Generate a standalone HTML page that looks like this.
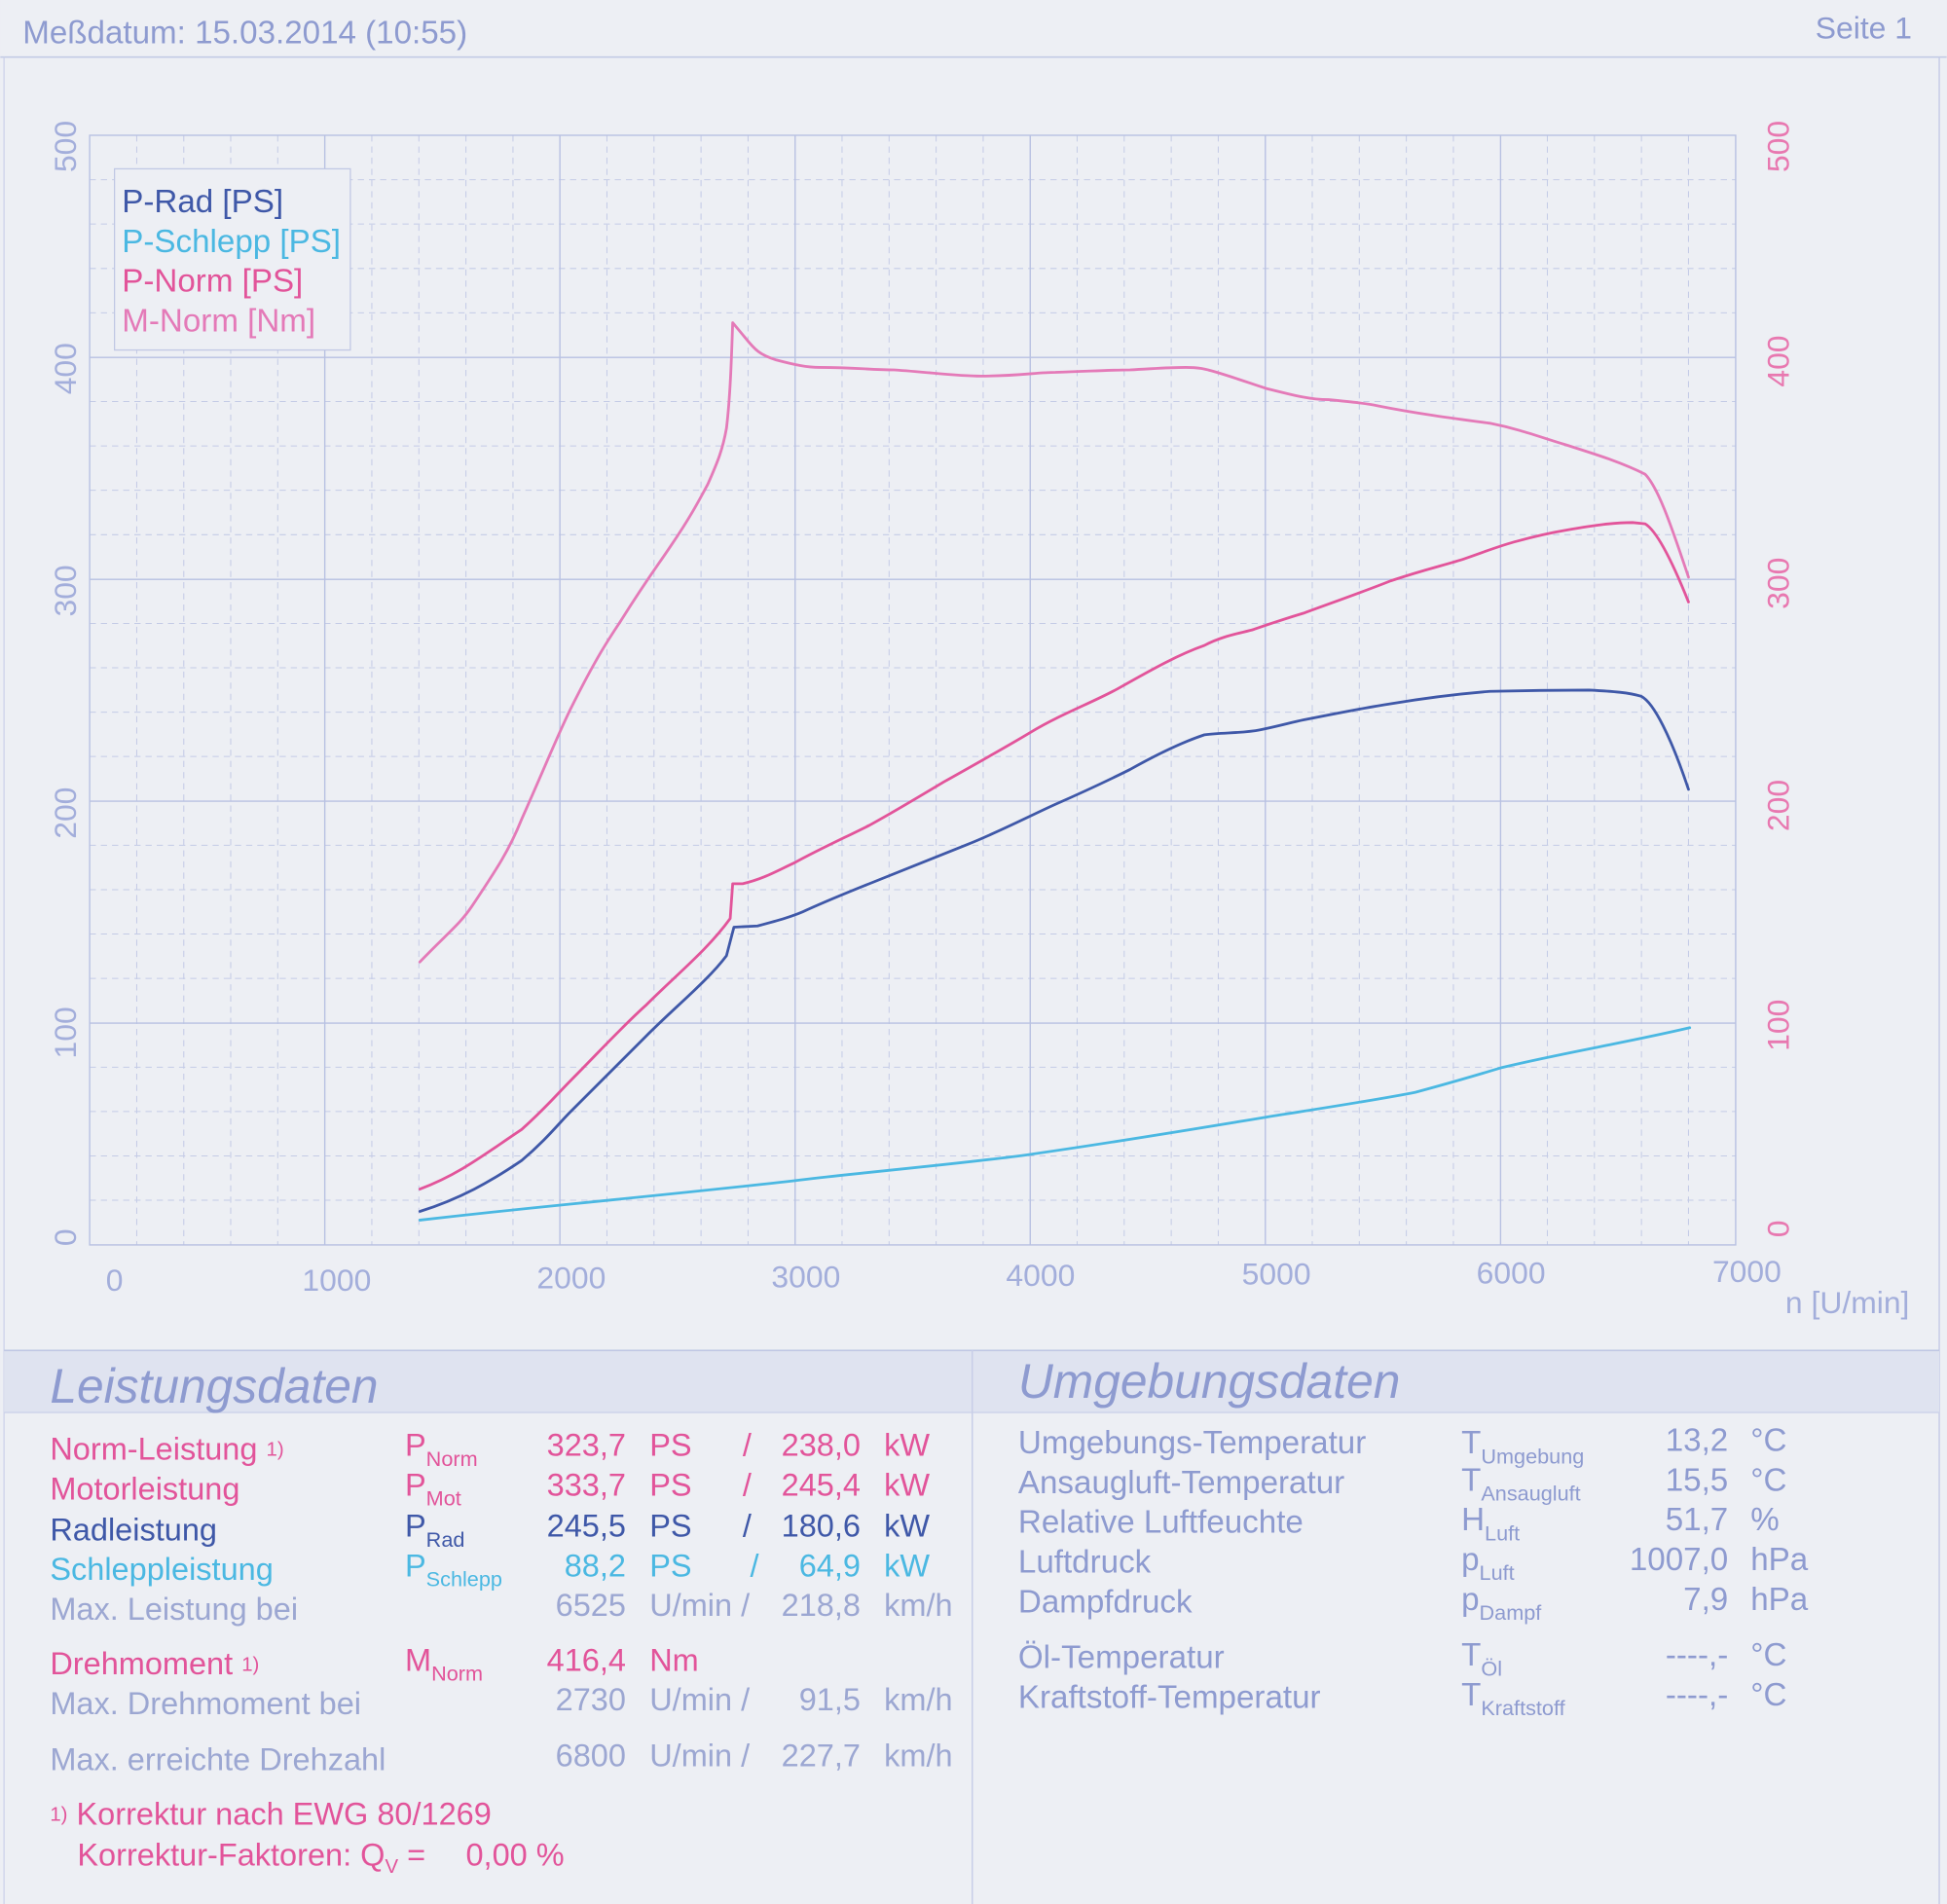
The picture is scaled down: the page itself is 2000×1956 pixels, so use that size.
<!DOCTYPE html>
<html><head><meta charset="utf-8"><style>
html,body{margin:0;padding:0;background:#eceef3;}
svg{display:block;}
text{font-family:"Liberation Sans",Arial,sans-serif;}
</style></head><body>
<svg width="2000" height="1956" viewBox="0 0 1568 1534" xmlns="http://www.w3.org/2000/svg">
<rect x="0" y="0" width="1568" height="1534" fill="#edeff4"/>
<text x="18" y="35" font-size="26" fill="#8e9bd0">Meßdatum: 15.03.2014 (10:55)</text>
<text x="1540" y="31" font-size="25" fill="#8e9bd0" text-anchor="end">Seite 1</text>
<line x1="0" y1="46" x2="1568" y2="46" stroke="#c0c8e4" stroke-width="1.2"/>
<line x1="1562" y1="46" x2="1562" y2="1534" stroke="#c8cee8" stroke-width="1.2"/>
<line x1="3" y1="46" x2="3" y2="1534" stroke="#cdd2ea" stroke-width="1"/>

<!-- grid -->
<g stroke="#c4cbe6" stroke-width="0.8" stroke-dasharray="5,4" fill="none">
<path d="M72,144.8H1398M72,180.5H1398M72,216.3H1398M72,252H1398
M72,323.5H1398M72,359.3H1398M72,395H1398M72,430.8H1398
M72,502.3H1398M72,538H1398M72,573.8H1398M72,609.5H1398
M72,681H1398M72,716.8H1398M72,752.5H1398M72,788.3H1398
M72,859.8H1398M72,895.5H1398M72,931.3H1398M72,967H1398"/>
<path d="M109.9,109V1003M147.8,109V1003M185.6,109V1003M223.5,109V1003
M299.3,109V1003M337.2,109V1003M375.1,109V1003M413,109V1003
M488.7,109V1003M526.6,109V1003M564.5,109V1003M602.4,109V1003
M678.1,109V1003M716,109V1003M753.9,109V1003M791.8,109V1003
M867.5,109V1003M905.4,109V1003M943.3,109V1003M981.2,109V1003
M1056.9,109V1003M1094.8,109V1003M1132.7,109V1003M1170.6,109V1003
M1246.3,109V1003M1284.2,109V1003M1322.1,109V1003M1360,109V1003"/>
</g>
<g stroke="#b8c1e2" stroke-width="1.1" fill="none">
<rect x="72" y="109" width="1326" height="894"/>
<path d="M72,288H1398M72,466.8H1398M72,645.5H1398M72,824.3H1398"/>
<path d="M261.4,109V1003M450.8,109V1003M640.3,109V1003M829.7,109V1003M1019.1,109V1003M1208.6,109V1003"/>
</g>

<!-- left labels -->
<g font-size="25" fill="#a3aedb" text-anchor="middle">
<text transform="translate(61,118) rotate(-90)">500</text>
<text transform="translate(61,297) rotate(-90)">400</text>
<text transform="translate(61,476) rotate(-90)">300</text>
<text transform="translate(61,655) rotate(-90)">200</text>
<text transform="translate(61,832) rotate(-90)">100</text>
<text transform="translate(61,997) rotate(-90)">0</text>
</g>
<g font-size="25" fill="#e878b0" text-anchor="middle">
<text transform="translate(1441,118) rotate(-90)">500</text>
<text transform="translate(1441,291) rotate(-90)">400</text>
<text transform="translate(1441,470) rotate(-90)">300</text>
<text transform="translate(1441,649) rotate(-90)">200</text>
<text transform="translate(1441,826) rotate(-90)">100</text>
<text transform="translate(1441,990) rotate(-90)">0</text>
</g>
<g font-size="25" fill="#a3aedb" text-anchor="middle">
<text x="92" y="1040">0</text><text x="271" y="1040">1000</text><text x="460" y="1038">2000</text>
<text x="649" y="1037">3000</text><text x="838" y="1036">4000</text><text x="1028" y="1035">5000</text>
<text x="1217" y="1034">6000</text><text x="1407" y="1033">7000</text>
<text x="1488" y="1058">n [U/min]</text>
</g>

<!-- legend -->
<rect x="92" y="136" width="190" height="146" fill="#edeff4" stroke="#c0c8e4" stroke-width="1"/>
<g font-size="26">
<text x="98" y="171" fill="#3f58a8">P-Rad [PS]</text>
<text x="98" y="203" fill="#4bb8e2">P-Schlepp [PS]</text>
<text x="98" y="235" fill="#e2549a">P-Norm [PS]</text>
<text x="98" y="267" fill="#e47ab8">M-Norm [Nm]</text>
</g>

<!-- curves -->
<g fill="none" stroke-width="2.2" stroke-linejoin="round" stroke-linecap="round">
<path stroke="#e47ab8" d="M338,775 C360,752 370,745 380,730 C400,700 410,685 420,660 C440,615 450,590 460,570 C480,530 490,515 500,500 C520,468 530,455 540,440 C555,418 562,405 570,390 C578,372 582,362 585,345 C588,320 589,290 590,260 L600,272 C608,282 612,286 625,290 C640,294 650,296 660,296 C690,296 700,298 720,298 C750,300 770,303 790,303 C820,303 835,300 850,300 C880,299 895,298 910,298 C930,297 940,296 955,296 C965,296 970,297 980,300 C1000,306 1010,310 1020,313 C1040,318 1055,322 1070,322 C1090,324 1100,325 1110,327 C1140,333 1170,337 1200,341 C1225,346 1240,352 1260,358 C1285,366 1305,372 1325,382 C1335,392 1345,420 1360,465"/>
<path stroke="#e2549a" d="M338,958 C370,946 390,930 420,910 C440,892 450,880 460,870 C480,850 500,828 520,810 C545,785 570,765 588,740 L590,712 L598,712 C615,708 625,702 640,695 C660,684 680,675 700,665 C720,654 740,642 760,630 C785,616 810,602 830,590 C855,575 880,566 900,555 C930,538 950,527 970,520 C985,512 1000,510 1010,507 C1030,500 1040,497 1050,494 C1080,483 1100,476 1120,468 C1150,458 1165,455 1180,450 C1200,443 1210,439 1222,436 C1240,431 1250,429 1262,427 C1285,423 1300,421 1315,421 L1325,422 C1335,428 1348,455 1360,485"/>
<path stroke="#3f58a8" d="M338,976 C370,966 395,952 420,935 C440,918 450,905 460,895 C480,875 500,855 520,835 C545,810 570,790 585,770 L591,747 L610,746 C625,742 640,738 650,733 C670,724 685,718 700,712 C730,700 755,690 780,680 C805,670 830,657 850,648 C875,637 890,630 910,620 C935,606 955,597 970,592 C985,590 1000,591 1015,588 C1030,585 1040,582 1050,580 C1080,574 1100,570 1120,567 C1150,562 1175,559 1200,557 C1240,556 1260,556 1280,556 C1300,557 1312,558 1322,561 C1332,566 1346,594 1360,636"/>
<path stroke="#4bb8e2" d="M338,983 C400,976 430,973 460,970 C540,962 600,956 650,950 C720,942 780,937 830,930 C900,920 960,910 1020,900 C1070,892 1110,886 1140,880 C1170,872 1190,866 1210,860 C1260,848 1310,840 1361,828"/>
</g>

<!-- bottom section -->
<rect x="3" y="1088" width="1559" height="50" fill="#dfe3f0"/>
<line x1="3" y1="1088" x2="1562" y2="1088" stroke="#c0c8e4" stroke-width="1.2"/>
<line x1="3" y1="1138" x2="1562" y2="1138" stroke="#ccd2ea" stroke-width="1"/>
<line x1="783" y1="1088" x2="783" y2="1534" stroke="#c8cee8" stroke-width="1.2"/>
<text x="40" y="1130" font-size="39" font-style="italic" fill="#8e9bd0">Leistungsdaten</text>
<text x="820" y="1126" font-size="39" font-style="italic" fill="#8e9bd0">Umgebungsdaten</text>

<g font-size="25.5">
<g fill="#e2549a">
<text x="40" y="1176">Norm-Leistung <tspan font-size="16" dy="-3">1)</tspan></text>
<text x="326" y="1173">P<tspan font-size="17" dy="8">Norm</tspan></text>
<text x="504" y="1173" text-anchor="end">323,7</text><text x="523" y="1173">PS</text><text x="598" y="1173">/</text>
<text x="693" y="1173" text-anchor="end">238,0</text><text x="712" y="1173">kW</text>
<text x="40" y="1208">Motorleistung</text>
<text x="326" y="1205">P<tspan font-size="17" dy="8">Mot</tspan></text>
<text x="504" y="1205" text-anchor="end">333,7</text><text x="523" y="1205">PS</text><text x="598" y="1205">/</text>
<text x="693" y="1205" text-anchor="end">245,4</text><text x="712" y="1205">kW</text>
</g>
<g fill="#3f58a8">
<text x="40" y="1241">Radleistung</text>
<text x="326" y="1238">P<tspan font-size="17" dy="8">Rad</tspan></text>
<text x="504" y="1238" text-anchor="end">245,5</text><text x="523" y="1238">PS</text><text x="598" y="1238">/</text>
<text x="693" y="1238" text-anchor="end">180,6</text><text x="712" y="1238">kW</text>
</g>
<g fill="#4bb8e2">
<text x="40" y="1273">Schleppleistung</text>
<text x="326" y="1270">P<tspan font-size="17" dy="8">Schlepp</tspan></text>
<text x="504" y="1270" text-anchor="end">88,2</text><text x="523" y="1270">PS</text><text x="604" y="1270">/</text>
<text x="693" y="1270" text-anchor="end">64,9</text><text x="712" y="1270">kW</text>
</g>
<g fill="#9ca7d2">
<text x="40" y="1305">Max. Leistung bei</text>
<text x="504" y="1302" text-anchor="end">6525</text><text x="523" y="1302">U/min /</text>
<text x="693" y="1302" text-anchor="end">218,8</text><text x="712" y="1302">km/h</text>
</g>
<g fill="#e2549a">
<text x="40" y="1349">Drehmoment <tspan font-size="16" dy="-3">1)</tspan></text>
<text x="326" y="1346">M<tspan font-size="17" dy="8">Norm</tspan></text>
<text x="504" y="1346" text-anchor="end">416,4</text><text x="523" y="1346">Nm</text>
</g>
<g fill="#9ca7d2">
<text x="40" y="1381">Max. Drehmoment bei</text>
<text x="504" y="1378" text-anchor="end">2730</text><text x="523" y="1378">U/min /</text>
<text x="693" y="1378" text-anchor="end">91,5</text><text x="712" y="1378">km/h</text>
<text x="40" y="1426">Max. erreichte Drehzahl</text>
<text x="504" y="1423" text-anchor="end">6800</text><text x="523" y="1423">U/min /</text>
<text x="693" y="1423" text-anchor="end">227,7</text><text x="712" y="1423">km/h</text>
</g>
<g fill="#e2549a">
<text x="40" y="1470"><tspan font-size="16" dy="-3">1)</tspan><tspan dy="3"> Korrektur nach EWG 80/1269</tspan></text>
<text x="62" y="1503">Korrektur-Faktoren: Q<tspan font-size="16" dy="6">V</tspan><tspan dy="-6"> =</tspan></text>
<text x="375" y="1503">0,00 %</text>
</g>
</g>
<g font-size="26" fill="#8e9bd0">
<text x="820" y="1171">Umgebungs-Temperatur</text>
<text x="1177" y="1171">T<tspan font-size="17" dy="8">Umgebung</tspan></text>
<text x="1392" y="1169" text-anchor="end">13,2</text><text x="1410" y="1169">°C</text>
<text x="820" y="1203">Ansaugluft-Temperatur</text>
<text x="1177" y="1201">T<tspan font-size="17" dy="8">Ansaugluft</tspan></text>
<text x="1392" y="1201" text-anchor="end">15,5</text><text x="1410" y="1201">°C</text>
<text x="820" y="1235">Relative Luftfeuchte</text>
<text x="1177" y="1233">H<tspan font-size="17" dy="8">Luft</tspan></text>
<text x="1392" y="1233" text-anchor="end">51,7</text><text x="1410" y="1233">%</text>
<text x="820" y="1267">Luftdruck</text>
<text x="1177" y="1265">p<tspan font-size="17" dy="8">Luft</tspan></text>
<text x="1392" y="1265" text-anchor="end">1007,0</text><text x="1410" y="1265">hPa</text>
<text x="820" y="1299">Dampfdruck</text>
<text x="1177" y="1297">p<tspan font-size="17" dy="8">Dampf</tspan></text>
<text x="1392" y="1297" text-anchor="end">7,9</text><text x="1410" y="1297">hPa</text>
<text x="820" y="1344">Öl-Temperatur</text>
<text x="1177" y="1342">T<tspan font-size="17" dy="8">Öl</tspan></text>
<text x="1392" y="1342" text-anchor="end">----,-</text><text x="1410" y="1342">°C</text>
<text x="820" y="1376">Kraftstoff-Temperatur</text>
<text x="1177" y="1374">T<tspan font-size="17" dy="8">Kraftstoff</tspan></text>
<text x="1392" y="1374" text-anchor="end">----,-</text><text x="1410" y="1374">°C</text>
</g>
</svg>
</body></html>
